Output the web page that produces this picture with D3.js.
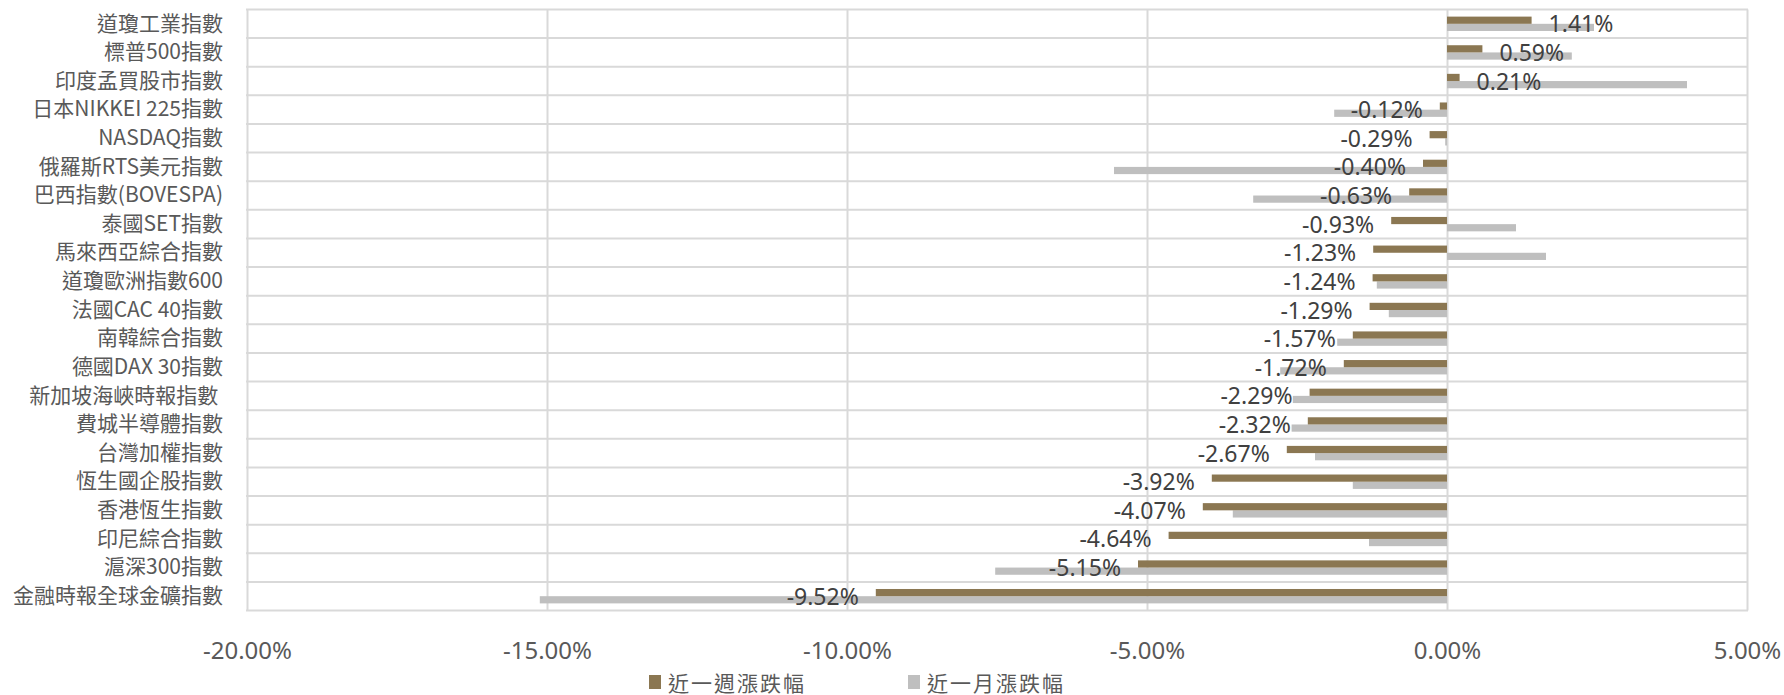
<!DOCTYPE html>
<html>
<head>
<meta charset="utf-8">
<script src="https://cdn.jsdelivr.net/npm/d3@7"></script>
<style>
  body { margin: 0; background: #fff; }
  svg text { font-family: "Noto Sans CJK TC", "Noto Sans", sans-serif; }
</style>
</head>
<body>
<div id="chart"></div>
<script>
// categories top -> bottom
var categories = ["道瓊工業指數", "標普500指數", "印度孟買股市指數", "日本NIKKEI 225指數", "NASDAQ指數",
  "俄羅斯RTS美元指數", "巴西指數(BOVESPA)", "泰國SET指數", "馬來西亞綜合指數", "道瓊歐洲指數600",
  "法國CAC 40指數", "南韓綜合指數", "德國DAX 30指數", "新加坡海峽時報指數 ", "費城半導體指數",
  "台灣加權指數", "恆生國企股指數", "香港恆生指數", "印尼綜合指數", "滬深300指數", "金融時報全球金礦指數"];

// 近一週漲跌幅 (%)
var weekValues = [1.41, 0.59, 0.21, -0.12, -0.29, -0.40, -0.63, -0.93, -1.23, -1.24,
  -1.29, -1.57, -1.72, -2.29, -2.32, -2.67, -3.92, -4.07, -4.64, -5.15, -9.52];

// 近一月漲跌幅 (%)
var monthValues = [2.45, 2.08, 4.0, -1.88, -0.03, -5.55, -3.23, 1.15, 1.65, -1.17,
  -0.97, -1.83, -2.78, -2.57, -2.59, -2.2, -1.57, -3.57, -1.3, -7.53, -15.12];

var tickValues = [-20, -15, -10, -5, 0, 5];
var seriesNames = ["近一週漲跌幅", "近一月漲跌幅"];
var colors = ["#8b7752", "#bfbfbf"];

var W = 1784, H = 695;
var plotL = 247, plotR = 1747, plotT = 9.5, plotB = 610.5;
var barH = 7.2;

var svg = d3.select("#chart").append("svg")
  .attr("width", W)
  .attr("height", H);

var x = d3.scaleLinear().domain([-20, 5]).range([plotL, plotR]);
var y = d3.scaleBand().domain(categories).range([plotT, plotB]).padding(0);

// vertical gridlines
svg.append("g")
  .attr("transform", "translate(0," + plotB + ")")
  .call(d3.axisBottom(x).tickValues(tickValues).tickSize(-(plotB - plotT)).tickFormat(""))
  .call(function(g) { g.select(".domain").remove(); })
  .selectAll("line")
  .attr("stroke", "#d9d9d9")
  .attr("stroke-width", 2);

// horizontal category boundaries
var bounds = categories.map(function(c) { return y(c); }).concat([plotB]);
svg.append("g").selectAll("line")
  .data(bounds)
  .enter().append("line")
  .attr("x1", plotL - 1)
  .attr("x2", plotR + 1)
  .attr("y1", function(d) { return d; })
  .attr("y2", function(d) { return d; })
  .attr("stroke", "#d9d9d9")
  .attr("stroke-width", 2);

// bars
var rows = categories.map(function(c, i) { return { cat: c, week: weekValues[i], month: monthValues[i] }; });

svg.append("g").selectAll("rect")
  .data(rows)
  .enter().append("rect")
  .attr("x", function(d) { return x(Math.min(0, d.month)); })
  .attr("width", function(d) { return Math.abs(x(d.month) - x(0)); })
  .attr("y", function(d) { return y(d.cat) + y.bandwidth() / 2; })
  .attr("height", barH)
  .attr("fill", colors[1]);

svg.append("g").selectAll("rect")
  .data(rows)
  .enter().append("rect")
  .attr("x", function(d) { return x(Math.min(0, d.week)); })
  .attr("width", function(d) { return Math.abs(x(d.week) - x(0)); })
  .attr("y", function(d) { return y(d.cat) + y.bandwidth() / 2 - barH; })
  .attr("height", barH)
  .attr("fill", colors[0]);

// data labels
svg.append("g").selectAll("text")
  .data(rows)
  .enter().append("text")
  .attr("x", function(d) { return d.week >= 0 ? x(d.week) + 17 : x(d.week) - 17; })
  .attr("y", function(d) { return y(d.cat) + y.bandwidth() / 2 - 0.5; })
  .attr("text-anchor", function(d) { return d.week >= 0 ? "start" : "end"; })
  .attr("dominant-baseline", "central")
  .style("font-family", "'Noto Sans', 'Noto Sans CJK TC', sans-serif")
  .style("font-size", "23px")
  .attr("fill", "#404040")
  .text(function(d) { return d.week.toFixed(2) + "%"; });

// category axis
var yAxis = svg.append("g")
  .attr("transform", "translate(" + plotL + ",0)")
  .call(d3.axisLeft(y).tickSize(0).tickPadding(24));
yAxis.select(".domain").remove();
yAxis.selectAll("text")
  .style("font-size", "21px")
  .style("white-space", "pre")
  .attr("fill", "#595959");

// value axis labels
var xAxis = svg.append("g")
  .attr("transform", "translate(0," + plotB + ")")
  .call(d3.axisBottom(x).tickValues(tickValues).tickSize(0).tickPadding(31)
    .tickFormat(function(d) { return d.toFixed(2) + "%"; }));
xAxis.select(".domain").remove();
xAxis.selectAll("text")
  .style("font-family", "'Noto Sans', 'Noto Sans CJK TC', sans-serif")
  .style("font-size", "24px")
  .attr("fill", "#595959");

// legend
var legendX = [649, 908];
var legend = svg.append("g").selectAll("g")
  .data(seriesNames)
  .enter().append("g")
  .attr("transform", function(d, i) { return "translate(" + legendX[i] + ",682)"; });
legend.append("rect")
  .attr("x", 0).attr("y", -7)
  .attr("width", 12).attr("height", 14)
  .attr("fill", function(d, i) { return colors[i]; });
legend.append("text")
  .attr("x", 19)
  .attr("dominant-baseline", "central")
  .style("font-size", "21px")
  .style("letter-spacing", "2px")
  .attr("fill", "#595959")
  .text(function(d) { return d; });
</script>
</body>
</html>
